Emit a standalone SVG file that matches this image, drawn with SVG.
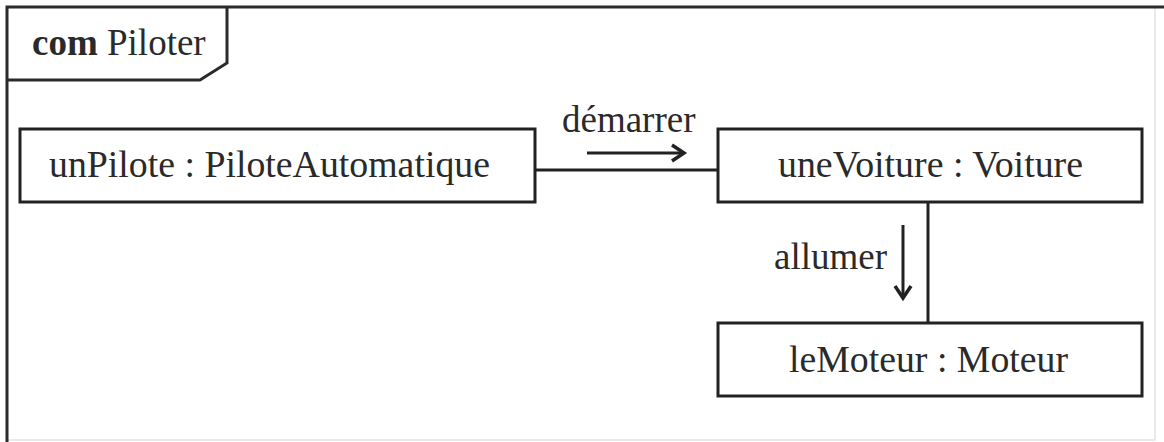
<svg xmlns="http://www.w3.org/2000/svg" width="1164" height="442" viewBox="0 0 1164 442">
  <defs>
    <style>
      .frame { fill: none; stroke: #2b2b2b; stroke-width: 3; }
      .faint { fill: none; stroke: #e4e4e4; stroke-width: 1.5; }
      .box { fill: #ffffff; stroke: #222222; stroke-width: 3; }
      .link { fill: none; stroke: #222222; stroke-width: 3; }
      .msg { fill: none; stroke: #222222; stroke-width: 3; }
      .head { fill: none; stroke: #222222; stroke-width: 3.5; stroke-linejoin: miter; stroke-linecap: butt; }
      text { font-family: "Liberation Serif", "Times New Roman", serif; font-size: 37px; fill: #2a2a2a; }
      .bold { font-weight: bold; }
    </style>
  </defs>
  <rect x="0" y="0" width="1164" height="442" fill="#ffffff"/>

  <g id="frame">
    <path class="faint" d="M1155,7 L1155,440 L7,440"/>
    <path class="frame" d="M7,442 L7,7 L1164,7"/>
    <path class="frame" d="M7,80 L200,80 L227,63 L227,7"/>
    <text x="32" y="55"><tspan class="bold">com</tspan> Piloter</text>
  </g>

  <g id="connectors">
    <line class="link" x1="535" y1="170" x2="718" y2="170"/>
    <line class="link" x1="928" y1="202" x2="928" y2="323"/>
    <g id="msg-demarrer">
      <line class="msg" x1="587" y1="153" x2="682" y2="153"/>
      <path class="head" d="M672,145 L684,153 L672,161"/>
      <text x="562" y="132">démarrer</text>
    </g>
    <g id="msg-allumer">
      <line class="msg" x1="903" y1="225" x2="903" y2="295"/>
      <path class="head" d="M895,286 L903,298 L911,286"/>
      <text x="774" y="269">allumer</text>
    </g>
  </g>

  <g id="unPilote">
    <rect class="box" x="20" y="129" width="515" height="73"/>
    <text x="49" y="177" textLength="441" lengthAdjust="spacingAndGlyphs">unPilote : PiloteAutomatique</text>
  </g>

  <g id="uneVoiture">
    <rect class="box" x="718" y="129" width="424" height="73"/>
    <text x="778" y="177" textLength="305" lengthAdjust="spacingAndGlyphs">uneVoiture : Voiture</text>
  </g>

  <g id="leMoteur">
    <rect class="box" x="718" y="323" width="424" height="73"/>
    <text x="789" y="372" textLength="279" lengthAdjust="spacingAndGlyphs">leMoteur : Moteur</text>
  </g>
</svg>
